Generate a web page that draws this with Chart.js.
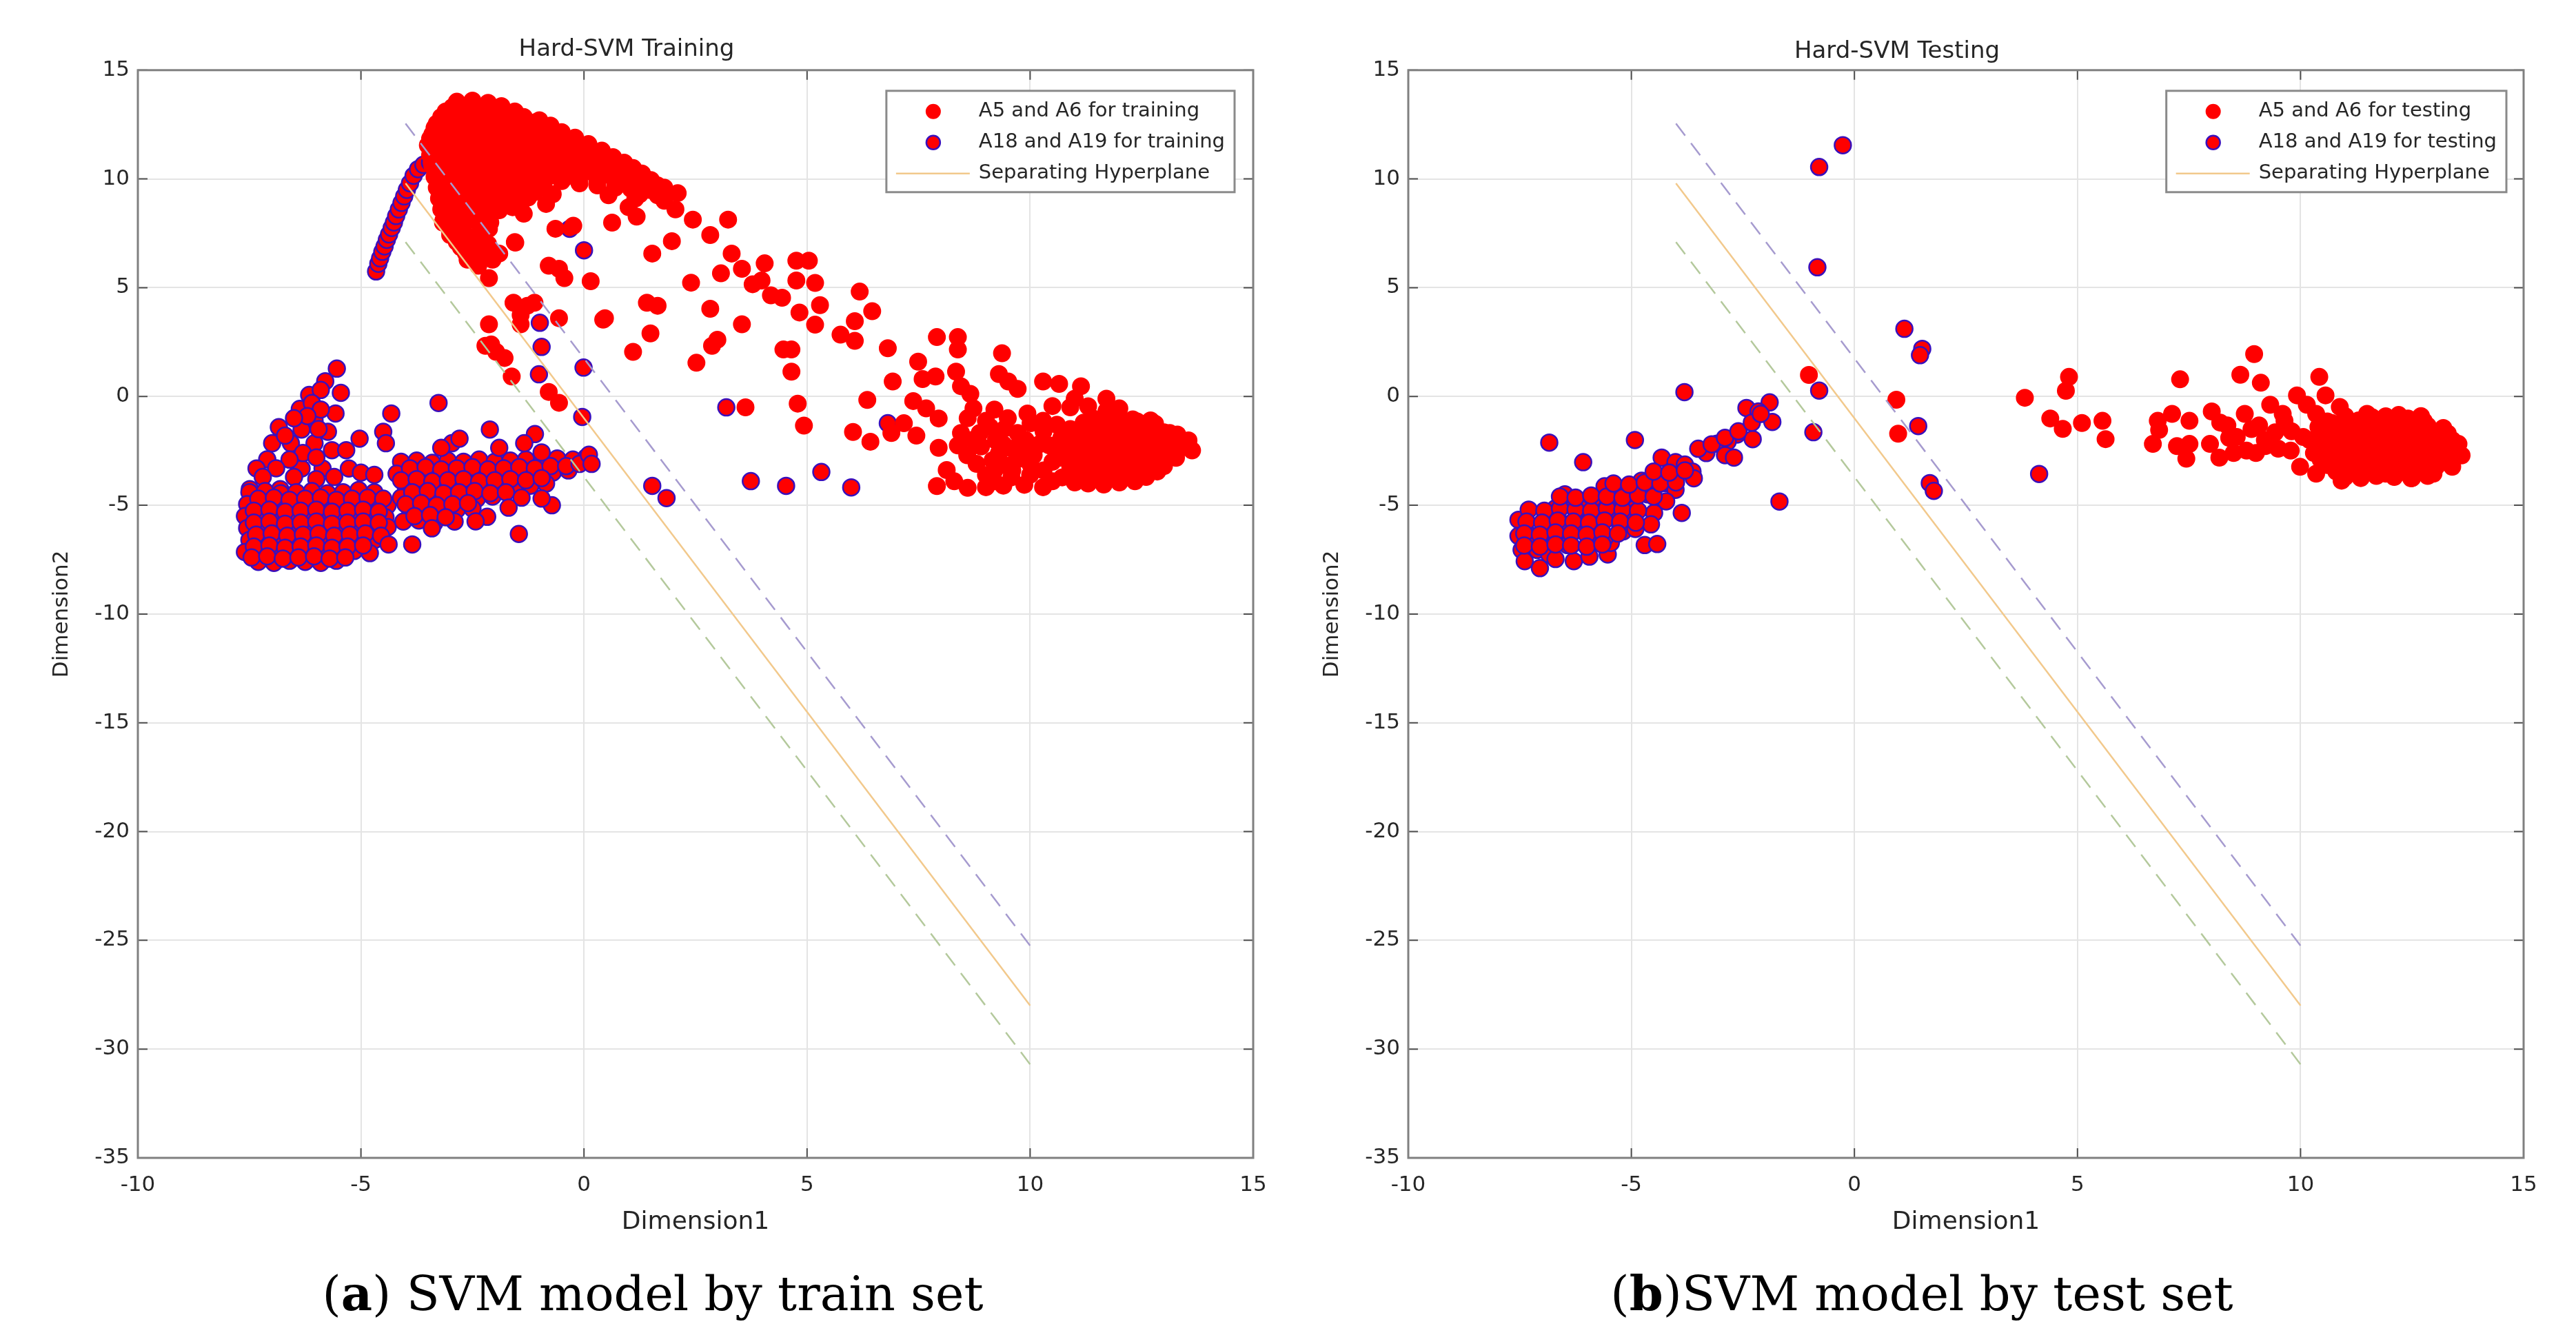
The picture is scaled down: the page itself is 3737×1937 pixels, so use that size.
<!DOCTYPE html>
<html>
<head>
<meta charset="utf-8">
<script src="https://cdn.jsdelivr.net/npm/chart.js@4.4.1/dist/chart.umd.min.js"></script>
<style>
  body { margin: 0; width: 3737px; height: 1937px; background: #fff; position: relative; overflow: hidden; }
  .caja { position: absolute; top: 0; width: 1870px; height: 1800px; }
  .pie { position: absolute; top: 1837px; line-height: 80px; font-family: "DejaVu Serif", serif; font-size: 70px; color: #000; white-space: nowrap; transform: translateX(-50%); }
</style>
</head>
<body>
<div class="caja" style="left:0"><canvas id="svmTrain"></canvas></div>
<div class="caja" style="left:1843px"><canvas id="svmTest"></canvas></div>
<div class="pie" style="left:947px">(<b>a</b>) SVM model by train set</div>
<div class="pie" style="left:2788px">(<b>b</b>)SVM model by test set</div>

<script>
// Datos [Dimension1, Dimension2]
const trenA5A6 = [
  [-2.85,13.55],[-2.5,13.6],[-2.15,13.5],[-1.85,13.35],
  [-3.1,13.1],[-2.75,13.15],[-2.4,13.1],[-2.05,13.05],[-1.7,12.95],[-1.35,12.85],[-1.0,12.7],
  [-3.3,12.55],[-2.95,12.6],[-2.6,12.65],[-2.25,12.6],[-1.9,12.55],[-1.55,12.5],[-1.2,12.4],[-0.85,12.3],[-0.5,12.15],
  [-3.4,12.05],[-3.05,12.1],[-2.7,12.1],[-2.35,12.05],[-2.0,12.1],[-1.65,12.0],[-1.3,12.0],[-0.95,11.9],[-0.6,11.85],[-0.25,11.75],[0.1,11.6],
  [-3.5,11.55],[-3.15,11.6],[-2.8,11.6],[-2.45,11.55],[-2.1,11.6],[-1.75,11.5],[-1.4,11.55],[-1.05,11.45],[-0.7,11.4],[-0.35,11.35],[0.0,11.2],[0.35,11.15],[0.65,11.0],
  [-3.45,11.1],[-3.1,11.05],[-2.75,11.1],[-2.4,11.0],[-2.05,11.1],[-1.7,11.0],[-1.35,11.05],[-1.0,10.95],[-0.65,10.9],[-0.3,10.85],[0.05,10.8],[0.4,10.7],[0.75,10.6],[1.1,10.5],
  [-3.4,10.6],[-3.05,10.55],[-2.7,10.6],[-2.35,10.5],[-2.0,10.6],[-1.65,10.5],[-1.3,10.55],[-0.95,10.4],[-0.6,10.45],[-0.25,10.3],[0.1,10.35],[0.5,10.2],[0.85,10.15],[1.2,10.05],[1.5,9.95],
  [-3.35,10.1],[-3.0,10.05],[-2.65,10.1],[-2.3,10.0],[-1.95,10.05],[-1.6,9.95],[-1.25,10.0],[-0.9,9.85],[-0.5,9.9],[-0.1,9.8],[0.3,9.7],[0.7,9.6],[1.05,9.55],[1.45,9.5],[1.8,9.6],
  [-3.3,9.6],[-2.95,9.55],[-2.6,9.6],[-2.25,9.5],[-1.9,9.55],[-1.5,9.45],[-1.1,9.4],[-0.7,9.3],[0.55,9.25],[1.15,9.1],[1.8,9.0],[2.1,9.35],
  [-3.25,9.1],[-2.9,9.05],[-2.55,9.1],[-2.2,9.0],[-1.8,9.05],[-1.4,8.95],[-0.85,8.85],[1.0,8.7],[2.05,8.6],
  [-3.2,8.6],[-2.85,8.55],[-2.5,8.6],[-2.15,8.5],[-1.35,8.4],
  [-3.15,8.1],[-2.8,8.05],[-2.45,8.1],[-2.1,8.0],
  [-3.0,7.6],[-2.7,7.55],[-2.35,7.5],
  [-2.85,7.1],[-2.5,7.05],[-2.15,7.0],[-1.55,7.1],
  [-2.65,6.6],[-2.3,6.5],[-1.95,6.55],
  [-2.95,13.3],[-2.6,13.35],[-2.25,13.3],[-1.9,13.2],[-1.55,13.1],
  [-3.2,12.85],[-2.85,12.9],[-2.5,12.85],[-2.15,12.85],[-1.8,12.8],[-1.45,12.7],[-1.1,12.6],[-0.75,12.45],
  [-3.35,12.35],[-3.0,12.35],[-2.65,12.4],[-2.3,12.3],[-1.95,12.35],[-1.6,12.25],[-1.25,12.2],[-0.9,12.1],[-0.55,12.0],[-0.2,11.9],
  [-3.45,11.85],[-3.1,11.85],[-2.75,11.8],[-2.4,11.85],[-2.05,11.8],[-1.7,11.75],[-1.35,11.8],[-1.0,11.7],[-0.65,11.6],[-0.3,11.55],[0.05,11.4],[0.4,11.3],
  [-3.3,11.35],[-2.95,11.3],[-2.6,11.35],[-2.25,11.3],[-1.9,11.35],[-1.55,11.25],[-1.2,11.3],[-0.85,11.2],[-0.5,11.1],[-0.15,11.05],[0.2,10.95],[0.55,10.9],[0.9,10.75],
  [-3.25,10.85],[-2.9,10.8],[-2.55,10.85],[-2.2,10.75],[-1.85,10.8],[-1.5,10.75],[-1.15,10.7],[-0.8,10.65],[-0.45,10.6],[-0.1,10.55],[0.25,10.5],[0.6,10.4],[0.95,10.35],[1.3,10.25],
  [-3.2,10.35],[-2.85,10.3],[-2.5,10.35],[-2.15,10.25],[-1.8,10.3],[-1.45,10.2],[-1.1,10.25],[-0.75,10.15],[-0.4,10.1],[0.3,9.95],[0.7,9.85],[1.05,9.8],[1.35,9.75],[1.65,9.7],
  [-3.15,9.85],[-2.8,9.8],[-2.45,9.85],[-2.1,9.75],[-1.75,9.8],[-1.35,9.7],[-0.95,9.6],[1.25,9.3],[1.65,9.25],
  [-3.1,9.35],[-2.75,9.3],[-2.4,9.35],[-2.05,9.25],[-1.65,9.2],[-1.25,9.15],
  [-3.05,8.85],[-2.7,8.8],[-2.35,8.85],[-2.0,8.75],[-1.6,8.7],
  [-3.0,8.35],[-2.65,8.3],[-2.3,8.3],
  [-1.9,8.56],[-1.42,9.12],[-0.64,7.71],[-0.24,7.85],[0.63,7.99],[1.18,8.27],[1.53,6.57],[1.97,7.14],[2.44,8.13],
  [2.4,5.23],[2.83,7.42],[3.07,5.66],[3.23,8.13],[3.31,6.57],[3.54,5.87],[3.78,5.16],
  [3.54,3.32],[2.87,2.33],[2.99,2.61],[2.52,1.55],[3.62,-0.5],[2.83,4.03],[1.1,2.05],[1.41,4.31],[1.65,4.17],[1.49,2.9],
  [0.47,3.6],[-0.56,3.6],[-1.58,4.31],[-1.42,3.75],[-1.27,4.17],[-1.11,4.31],[-1.42,3.32],[-2.13,3.32],[-2.21,2.33],
  [-1.97,2.05],[-1.78,1.77],[-1.62,0.92],[-0.79,0.21],[-0.56,-0.29],[-1.54,7.07],[-0.79,6.01],[-0.56,5.87],[-0.44,5.44],
  [0.15,5.3],[0.43,3.53],[-3.16,7.99],[-3.0,7.42],[-2.76,6.86],[-2.61,6.29],[-2.37,6.01],[-2.13,5.44],[-2.05,6.29],
  [-1.9,6.57],[-2.53,7.14],[-2.13,7.71],[-2.08,2.39],
  [4.05,6.12],[3.98,5.33],[4.19,4.65],[4.44,4.54],[4.76,6.24],[5.04,6.24],[4.76,5.33],[5.18,5.22],[4.83,3.86],
  [5.29,4.2],[5.18,3.3],[6.18,4.82],[6.46,3.92],[6.07,3.46],[5.75,2.84],[6.07,2.56],[4.47,2.16],[4.65,2.16],[4.65,1.14],
  [4.79,-0.33],[4.93,-1.34],[6.81,2.22],[7.91,2.73],[8.38,2.73],[8.38,2.16],[9.37,1.99],[7.49,1.6],[6.92,0.69],[7.59,0.8],
  [7.88,0.92],[8.34,1.14],[8.45,0.47],[8.66,0.12],[6.35,-0.16],[7.38,-0.21],[7.67,-0.55],[7.95,-1.01],[6.03,-1.63],
  [6.42,-2.08],[6.89,-1.68],[7.45,-1.8],[7.17,-1.23],[7.95,-2.36],[8.13,-3.38],[7.91,-4.12],[9.01,-4.17],[9.01,-3.61],
  [9.3,1.03],[9.51,0.69],[9.72,0.35],[10.29,0.69],[10.65,0.58],[11.14,0.47],[11.0,-0.1],[11.71,-0.1],[11.71,-0.67],
  [8.73,-0.55],[9.01,-1.12],[8.87,-1.68],[9.23,-2.02],[9.44,-1.46],[9.72,-1.68],[9.94,-0.78],[10.01,-1.23],[10.29,-1.12],
  [10.5,-0.44],[8.45,-1.68],[8.38,-2.25],[8.59,-2.7],[9.16,-2.93],[9.44,-3.16],[9.58,-3.72],[9.87,-4.06],[10.29,-4.17],
  [10.08,-2.7],[10.43,-2.25],[10.65,-2.82],[10.72,-3.72],[11.0,-3.95],[11.43,-3.04],[11.71,-3.49],[12.06,-3.72],
  [12.42,-3.49],[12.84,-3.16],[13.27,-2.82],[13.63,-2.48],[13.55,-2.02],[13.13,-1.68],[12.77,-1.46],[12.42,-1.34],
  [12.06,-1.23],[11.71,-1.34],[11.35,-1.68],[11.0,-2.02],
  [10.7,-1.9],[11.05,-1.95],[11.4,-1.85],[11.75,-1.9],[12.1,-1.95],[12.45,-1.85],[12.8,-1.9],[13.15,-1.95],[13.45,-2.3],
  [10.85,-2.45],[11.2,-2.5],[11.55,-2.4],[11.9,-2.45],[12.25,-2.5],[12.6,-2.4],[12.95,-2.45],[13.3,-2.5],
  [10.95,-3.0],[11.3,-2.95],[11.65,-3.05],[12.0,-3.0],[12.35,-2.95],[12.7,-3.0],[13.05,-2.9],
  [11.1,-3.5],[11.45,-3.55],[11.8,-3.5],[12.15,-3.45],[12.5,-3.55],[12.85,-3.45],
  [11.3,-4.0],[11.65,-4.05],[12.0,-3.95],[12.35,-3.9],
  [11.4,-1.0],[11.9,-0.95],[12.3,-1.05],[12.7,-1.1],[10.9,-0.5],[11.3,-0.45],[12.0,-0.55],
  [9.6,-2.4],[9.9,-2.0],[10.3,-1.6],[10.6,-1.3],[9.3,-2.6],[10.3,-3.4],[10.0,-3.6],[9.2,-3.9],[8.9,-2.3],[10.9,-1.5],
  [10.9,-1.65],[11.25,-1.7],[11.6,-1.6],[11.95,-1.65],[12.3,-1.7],[12.65,-1.6],[13.0,-1.65],[13.3,-1.75],
  [10.6,-2.2],[10.95,-2.25],[11.3,-2.15],[11.65,-2.2],[12.0,-2.25],[12.35,-2.15],[12.7,-2.2],[13.05,-2.25],[13.4,-2.15],
  [10.75,-2.75],[11.1,-2.7],[11.45,-2.8],[11.8,-2.75],[12.15,-2.7],[12.5,-2.8],[12.85,-2.75],[13.2,-2.7],
  [10.9,-3.25],[11.25,-3.3],[11.6,-3.2],[11.95,-3.25],[12.3,-3.3],[12.65,-3.2],[13.0,-3.2],
  [11.2,-3.75],[11.55,-3.8],[11.9,-3.7],[12.25,-3.75],[12.6,-3.7],
  [11.2,-1.2],[11.6,-1.15],[12.0,-1.25],[12.4,-1.15],[12.8,-1.25],
  [8.6,-1.0],[9.2,-0.6],[9.5,-1.0],[9.1,-1.4],[8.7,-2.0],[9.4,-2.2],[9.7,-2.9],[10.0,-3.1],[9.6,-3.4],[9.2,-3.4],
  [10.5,-3.0],[10.5,-3.9],[9.9,-2.5],[10.2,-2.2],[8.8,-3.1],[8.3,-3.9],[8.6,-4.2],[9.4,-4.1]
];

const trenA18A19 = [
  [-4.66,5.75],[-4.61,6.1],[-4.57,6.35],[-4.52,6.65],[-4.47,6.9],[-4.42,7.2],[-4.37,7.45],[-4.31,7.75],[-4.26,8.0],
  [-4.21,8.3],[-4.15,8.6],[-4.09,8.9],[-4.03,9.2],[-3.97,9.5],[-3.9,9.8],[-3.82,10.15],[-3.72,10.45],[-3.6,10.65],[-3.45,10.75],
  [-5.54,1.28],[-5.8,0.7],[-5.45,0.17],[-6.16,0.07],[-6.37,-0.57],[-5.57,-0.78],[-6.04,-1.1],[-6.33,-1.52],[-5.74,-1.62],
  [-6.57,-2.15],[-6.04,-2.15],[-5.65,-2.47],[-6.84,-1.41],[-6.99,-2.15],[-7.1,-2.89],[-7.34,-3.31],[-7.49,-4.26],
  [-6.81,-4.26],[-6.33,-3.31],[-5.86,-3.31],[-6.22,-4.79],[-5.27,-3.31],[-5.33,-2.47],[-5.03,-1.94],[-4.32,-0.78],
  [-4.5,-1.62],[-4.44,-2.15],[-5.9,0.3],[-6.1,-0.3],[-5.9,-0.6],[-6.2,-0.9],[-5.95,-1.5],[-6.5,-1.0],[-6.7,-1.8],
  [-6.3,-2.6],[-6.0,-2.8],[-6.6,-2.9],[-6.9,-3.3],[-7.2,-3.7],[-6.5,-3.7],[-6.0,-3.8],[-5.6,-3.7],[-5.0,-3.5],[-4.7,-3.6],
  [-7.5,-4.4],[-7.15,-4.35],[-6.8,-4.45],[-6.45,-4.4],[-6.1,-4.35],[-5.75,-4.45],[-5.4,-4.4],[-5.05,-4.3],[-4.7,-4.4],
  [-7.55,-4.95],[-7.2,-5.0],[-6.85,-4.9],[-6.5,-5.0],[-6.15,-4.95],[-5.8,-4.9],[-5.45,-5.0],[-5.1,-4.95],[-4.75,-4.9],[-4.4,-5.0],
  [-7.6,-5.5],[-7.25,-5.45],[-6.9,-5.55],[-6.55,-5.5],[-6.2,-5.45],[-5.85,-5.55],[-5.5,-5.5],[-5.15,-5.45],[-4.8,-5.5],[-4.45,-5.55],
  [-7.55,-6.05],[-7.2,-6.0],[-6.85,-6.1],[-6.5,-6.05],[-6.15,-6.0],[-5.8,-6.1],[-5.45,-6.05],[-5.1,-6.0],[-4.75,-6.1],[-4.4,-6.0],
  [-7.5,-6.6],[-7.15,-6.65],[-6.8,-6.55],[-6.45,-6.6],[-6.1,-6.65],[-5.75,-6.55],[-5.4,-6.6],[-5.05,-6.65],[-4.7,-6.6],
  [-7.6,-7.15],[-7.25,-7.1],[-6.9,-7.2],[-6.55,-7.15],[-6.2,-7.1],[-5.85,-7.2],[-5.5,-7.15],[-5.15,-7.1],[-4.8,-7.2],
  [-7.3,-7.6],[-6.95,-7.65],[-6.6,-7.55],[-6.25,-7.6],[-5.9,-7.65],[-5.55,-7.55],
  [-7.3,-4.7],[-6.95,-4.65],[-6.6,-4.75],[-6.25,-4.7],[-5.9,-4.65],[-5.55,-4.75],[-5.2,-4.7],[-4.85,-4.65],[-4.5,-4.7],
  [-7.4,-5.25],[-7.05,-5.2],[-6.7,-5.3],[-6.35,-5.25],[-6.0,-5.2],[-5.65,-5.3],[-5.3,-5.25],[-4.95,-5.2],[-4.6,-5.3],
  [-7.4,-5.8],[-7.05,-5.75],[-6.7,-5.85],[-6.35,-5.8],[-6.0,-5.75],[-5.65,-5.85],[-5.3,-5.8],[-4.95,-5.75],[-4.6,-5.8],
  [-7.35,-6.35],[-7.0,-6.3],[-6.65,-6.4],[-6.3,-6.35],[-5.95,-6.3],[-5.6,-6.4],[-5.25,-6.35],[-4.9,-6.3],[-4.55,-6.4],
  [-7.4,-6.9],[-7.05,-6.85],[-6.7,-6.95],[-6.35,-6.9],[-6.0,-6.85],[-5.65,-6.95],[-5.3,-6.9],[-4.95,-6.85],
  [-7.45,-7.4],[-7.1,-7.35],[-6.75,-7.45],[-6.4,-7.4],[-6.05,-7.35],[-5.7,-7.45],[-5.35,-7.4],
  [-4.1,-3.0],[-3.75,-2.95],[-3.4,-3.05],[-3.05,-2.95],[-2.7,-3.0],[-2.35,-2.9],[-2.0,-3.0],[-1.65,-2.95],[-1.3,-2.9],
  [-0.95,-3.0],[-0.6,-2.85],[-0.25,-2.9],[0.05,-2.8],
  [-4.2,-3.55],[-3.85,-3.5],[-3.5,-3.6],[-3.15,-3.55],[-2.8,-3.5],[-2.45,-3.6],[-2.1,-3.55],[-1.75,-3.5],[-1.4,-3.55],
  [-1.05,-3.45],[-0.7,-3.5],[-0.35,-3.4],
  [-4.0,-4.1],[-3.65,-4.05],[-3.3,-4.15],[-2.95,-4.1],[-2.6,-4.05],[-2.25,-4.1],[-1.9,-4.15],[-1.55,-4.05],[-1.2,-4.1],[-0.85,-4.0],
  [-4.1,-4.65],[-3.75,-4.6],[-3.4,-4.7],[-3.05,-4.65],[-2.7,-4.6],[-2.4,-4.7],[-2.05,-4.6],[-1.4,-4.65],
  [-3.9,-5.2],[-3.55,-5.15],[-3.2,-5.25],[-2.85,-5.2],[-2.5,-5.15],
  [-4.05,-5.75],[-3.7,-5.7],[-3.35,-5.8],[-2.9,-5.75],
  [-3.9,-3.3],[-3.55,-3.25],[-3.2,-3.35],[-2.85,-3.3],[-2.5,-3.25],[-2.15,-3.35],[-1.8,-3.3],[-1.45,-3.25],[-1.1,-3.3],
  [-0.75,-3.2],[-0.4,-3.2],[-0.1,-3.1],
  [-4.1,-3.85],[-3.75,-3.8],[-3.4,-3.9],[-3.05,-3.85],[-2.7,-3.8],[-2.35,-3.9],[-2.0,-3.85],[-1.65,-3.8],[-1.3,-3.85],[-0.95,-3.75],
  [-3.85,-4.4],[-3.5,-4.35],[-3.15,-4.45],[-2.8,-4.4],[-2.45,-4.35],[-2.1,-4.45],[-1.75,-4.4],
  [-4.0,-4.95],[-3.65,-4.9],[-3.3,-5.0],[-2.95,-4.95],[-2.6,-4.9],
  [-3.8,-5.5],[-3.45,-5.45],[-3.1,-5.55],
  [-3.26,-0.3],[-2.11,-1.52],[-2.96,-2.15],[-2.79,-1.94],[-3.2,-2.36],[-1.1,-1.73],[-0.95,-2.57],[0.11,-2.68],[0.17,-3.1],
  [-0.72,-5.0],[-0.95,-4.69],[-1.69,-5.11],[-1.46,-6.32],[-2.17,-5.53],[-2.43,-5.74],[-1.9,-2.36],[-1.34,-2.15],
  [-3.85,-6.8],[-4.38,-6.8],[-3.41,-6.06],
  [-0.95,2.28],[-1.01,1.02],[-0.01,1.33],[-0.04,-0.94],[0.0,6.72],[-0.32,7.71],[-0.99,3.39],[1.53,-4.11],[1.85,-4.67],
  [3.74,-3.89],[4.53,-4.11],[5.32,-3.47],[5.99,-4.18],[3.19,-0.5],[6.81,-1.23]
];

const pruebaA5A6 = [
  [-1.02,0.99],[0.94,-0.15],[0.98,-1.71],
  [3.82,-0.06],[4.81,0.9],[4.74,0.26],[4.39,-1.01],[4.67,-1.49],[5.1,-1.22],[5.56,-1.12],[5.63,-1.96],
  [7.3,0.79],[6.8,-1.12],[7.12,-0.8],[7.51,-1.12],[6.69,-2.18],[6.83,-1.54],[7.23,-2.28],[7.51,-2.18],[7.44,-2.86],
  [8.01,-0.69],[8.65,1.0],[8.96,1.95],[9.11,0.63],[9.32,-0.38],[8.75,-0.8],[8.36,-1.33],[7.97,-2.18],[8.18,-2.81],
  [8.57,-1.86],[8.79,-2.49],[9.07,-1.33],[9.43,-1.65],[9.64,-1.12],[9.21,-2.28],[9.92,0.05],[10.42,0.9],[10.56,0.05],
  [10.14,-0.38],[10.35,-0.8],[10.88,-0.48],[10.7,-1.22],[10.06,-1.86],[9.78,-2.49],[9.99,-3.23],[10.35,-3.55],
  [10.92,-3.87],[10.42,-2.49],[10.77,-2.28],[11.2,-1.86],[11.49,-0.8],[11.91,-0.91],[12.41,-1.01],[12.76,-1.12],
  [13.19,-1.65],[13.54,-2.18],[13.61,-2.71],[13.4,-3.23],[12.98,-3.55],[12.48,-3.76],[11.91,-3.55],[11.41,-3.34],
  [11.27,-2.49],[11.77,-2.39],[12.19,-2.49],[12.62,-2.49],[13.05,-2.49],[11.63,-1.65],[12.06,-1.65],[12.48,-1.65],
  [12.83,-1.86],[11.63,-2.92],[12.06,-3.13],[12.48,-3.13],[12.9,-3.02],[13.26,-2.71],
  [10.4,-1.4],[10.75,-1.45],[11.1,-1.35],[11.45,-1.4],[11.8,-1.35],[12.15,-1.45],[12.5,-1.4],[12.85,-1.35],[13.2,-1.45],
  [10.2,-2.0],[10.55,-2.05],[10.9,-1.95],[11.25,-2.0],[11.6,-2.05],[11.95,-1.95],[12.3,-2.0],[12.65,-2.05],[13.0,-1.95],[13.4,-2.0],
  [10.3,-2.6],[10.65,-2.65],[11.0,-2.55],[11.35,-2.6],[11.7,-2.65],[12.05,-2.55],[12.4,-2.6],[12.75,-2.65],[13.1,-2.55],[13.45,-2.6],
  [10.6,-3.15],[10.95,-3.2],[11.3,-3.1],[11.65,-3.15],[12.0,-3.2],[12.35,-3.1],[12.7,-3.15],[13.05,-3.2],
  [11.0,-3.7],[11.35,-3.75],[11.7,-3.65],[12.1,-3.7],[12.5,-3.75],[12.85,-3.65],
  [11.0,-0.9],[11.6,-0.95],[12.2,-0.85],[12.7,-0.9],
  [8.4,-1.9],[8.9,-1.5],[9.2,-2.0],[9.5,-2.4],[9.0,-2.6],[8.5,-2.6],[9.8,-1.6],[9.6,-0.8],[8.2,-1.2],
  [10.55,-1.7],[10.9,-1.75],[11.25,-1.65],[11.6,-1.7],[11.95,-1.75],[12.3,-1.65],[12.65,-1.7],[13.0,-1.75],[13.3,-1.7],
  [10.4,-2.3],[10.75,-2.35],[11.1,-2.25],[11.45,-2.3],[11.8,-2.35],[12.15,-2.25],[12.5,-2.3],[12.85,-2.35],[13.2,-2.25],
  [10.45,-2.9],[10.8,-2.95],[11.15,-2.85],[11.5,-2.9],[11.85,-2.95],[12.2,-2.85],[12.55,-2.9],[12.9,-2.95],[13.25,-2.85],
  [10.8,-3.45],[11.15,-3.5],[11.5,-3.4],[11.85,-3.45],[12.2,-3.5],[12.55,-3.4],[12.9,-3.45],
  [10.6,-1.15],[11.3,-1.1],[11.9,-1.2],[12.5,-1.15]
];

const pruebaA18A19 = [
  [-0.26,11.55],[-0.79,10.55],[-0.83,5.94],[1.12,3.11],[1.52,2.19],[1.47,1.9],[-0.79,0.27],[-0.92,-1.64],[1.43,-1.36],
  [1.69,-3.98],[1.78,-4.34],[-1.68,-4.83],[-3.81,0.2],[-4.92,-2.0],[4.14,-3.56],
  [-6.84,-2.12],[-6.08,-3.02],[-5.6,-4.13],[-7.53,-5.67],[-2.42,-0.53],[-1.9,-0.27],[-1.84,-1.17],[-2.15,-0.69],
  [-2.28,-1.96],[-2.63,-1.75],[-2.84,-2.07],[-3.08,-2.17],[-3.32,-2.6],[-2.9,-2.7],[-2.7,-2.81],[-4.32,-2.81],
  [-4.01,-3.02],[-3.8,-3.13],[-3.63,-3.45],[-3.6,-3.76],[-4.49,-3.55],[-4.77,-3.87],[-4.22,-3.98],[-4.01,-4.29],
  [-5.04,-4.5],[-4.63,-4.5],[-4.22,-4.82],[-3.87,-5.35],[-4.49,-5.35],[-4.56,-5.88],[-4.7,-6.83],[-4.42,-6.78],
  [-5.32,-4.93],[-5.6,-4.93],[-5.87,-4.72],[-6.29,-4.72],[-6.49,-4.5],[-6.7,-5.14],[-6.98,-5.78],[-7.25,-6.41],
  [-7.53,-6.41],[-7.46,-7.05],[-7.39,-7.57],[-7.05,-7.89],[-7.11,-7.05],[-6.84,-7.26],[-6.7,-6.62],[-6.43,-6.83],
  [-6.29,-7.57],[-5.94,-7.36],[-5.53,-7.26],[-5.46,-6.73],[-5.87,-6.3],[-6.29,-6.2],[-6.49,-5.88],[-6.01,-5.67],
  [-5.74,-5.78],[-5.32,-5.67],[-5.18,-6.2],[-4.91,-6.09],[-4.91,-5.14],[-5.46,-5.24],[-6.15,-5.14],[-6.84,-5.99],
  [-7.11,-6.62],[-6.7,-7.47],[-5.6,-6.52],[-5.18,-5.46],
  [-7.3,-5.2],[-6.95,-5.25],[-6.6,-5.15],[-6.25,-5.2],[-5.9,-5.25],[-5.55,-5.15],[-5.2,-5.2],[-4.85,-5.25],
  [-7.35,-5.75],[-7.0,-5.8],[-6.65,-5.7],[-6.3,-5.75],[-5.95,-5.8],[-5.6,-5.7],[-5.25,-5.75],[-4.9,-5.8],
  [-7.4,-6.3],[-7.05,-6.35],[-6.7,-6.25],[-6.35,-6.3],[-6.0,-6.35],[-5.65,-6.25],[-5.3,-6.3],
  [-7.4,-6.85],[-7.05,-6.9],[-6.7,-6.8],[-6.35,-6.85],[-6.0,-6.9],[-5.65,-6.8],
  [-6.6,-4.6],[-6.25,-4.65],[-5.9,-4.55],[-5.55,-4.6],[-5.2,-4.65],[-4.85,-4.55],[-4.5,-4.6],
  [-5.4,-4.0],[-5.05,-4.05],[-4.7,-3.95],[-4.35,-4.0],[-4.0,-3.95],
  [-4.5,-3.45],[-4.15,-3.5],[-3.8,-3.4],
  [-3.5,-2.4],[-3.2,-2.2],[-2.9,-1.9],[-2.6,-1.6],[-2.3,-1.2],[-2.1,-0.8]
];

// Hiperplano separador y márgenes (extremos)
const hiperX = [-4, 10];
const hiperY = [9.8, -28.0];
const margenSupY = [12.55, -25.25];
const margenInfY = [7.1, -30.7];

const aPuntos = arr => arr.map(([x, y]) => ({ x, y }));
const aLinea = ys => hiperX.map((x, i) => ({ x, y: ys[i] }));

Chart.defaults.font.family = '"DejaVu Sans", sans-serif';
Chart.defaults.color = '#262626';

// Marco de ejes estilo MATLAB + leyenda dentro del área
const marcoEjes = {
  id: 'marcoEjes',
  afterDatasetsDraw(chart, args, opts) {
    const { ctx, chartArea: a, scales } = chart;
    ctx.save();
    ctx.strokeStyle = '#4d4d4d';
    ctx.lineWidth = 2;
    ctx.beginPath();
    scales.x.ticks.forEach(t => {
      const px = scales.x.getPixelForValue(t.value);
      ctx.moveTo(px, a.bottom); ctx.lineTo(px, a.bottom - 14);
      ctx.moveTo(px, a.top); ctx.lineTo(px, a.top + 14);
    });
    scales.y.ticks.forEach(t => {
      const py = scales.y.getPixelForValue(t.value);
      ctx.moveTo(a.left, py); ctx.lineTo(a.left + 14, py);
      ctx.moveTo(a.right, py); ctx.lineTo(a.right - 14, py);
    });
    ctx.stroke();
    ctx.strokeStyle = '#808080';
    ctx.lineWidth = 3;
    ctx.strokeRect(a.left, a.top, a.right - a.left, a.bottom - a.top);

    // leyenda
    const items = chart.data.datasets.filter(d => d.enLeyenda);
    ctx.font = '29px "DejaVu Sans"';
    const anchoTexto = Math.max(...items.map(d => ctx.measureText(d.label).width));
    const w = 134 + anchoTexto + 14;
    const h = 147;
    const x0 = a.right - opts.derecha - w;
    const y0 = a.top + opts.arriba;
    ctx.fillStyle = '#fff';
    ctx.fillRect(x0, y0, w, h);
    ctx.strokeStyle = '#8a8a8a';
    ctx.lineWidth = 3;
    ctx.strokeRect(x0, y0, w, h);
    items.forEach((d, i) => {
      const cy = y0 + 30 + i * 45;
      if (d.showLine) {
        ctx.strokeStyle = d.borderColor;
        ctx.lineWidth = d.borderWidth;
        ctx.beginPath();
        ctx.moveTo(x0 + 14, cy); ctx.lineTo(x0 + 121, cy);
        ctx.stroke();
      } else {
        ctx.beginPath();
        ctx.arc(x0 + 68, cy, 10, 0, Math.PI * 2);
        ctx.fillStyle = d.backgroundColor;
        ctx.fill();
        ctx.strokeStyle = d.borderColor;
        ctx.lineWidth = d.borderWidth;
        ctx.stroke();
      }
      ctx.fillStyle = '#262626';
      ctx.textBaseline = 'middle';
      ctx.textAlign = 'left';
      ctx.fillText(d.label, x0 + 134, cy);
    });
    ctx.restore();
  }
};

function crearGrafico(id, titulo, rojos, azules, etiquetaRojos, etiquetaAzules, tituloArriba, derechaLeyenda) {
  const ctx = document.getElementById(id).getContext('2d');
  return new Chart(ctx, {
    type: 'scatter',
    data: {
      datasets: [
        {
          label: etiquetaRojos,
          data: aPuntos(rojos),
          backgroundColor: '#ff0000',
          borderColor: '#ff0000',
          pointRadius: 12,
          borderWidth: 2,
          order: 1,
          enLeyenda: true
        },
        {
          label: etiquetaAzules,
          data: aPuntos(azules),
          backgroundColor: '#ff0000',
          borderColor: '#3a10bc',
          pointRadius: 12,
          borderWidth: 2.5,
          order: 2,
          enLeyenda: true
        },
        {
          label: 'Separating Hyperplane',
          data: aLinea(hiperY),
          showLine: true,
          borderColor: '#f2c98c',
          borderWidth: 2.5,
          pointRadius: 0,
          order: 0,
          enLeyenda: true
        },
        {
          label: 'margen superior',
          data: aLinea(margenSupY),
          showLine: true,
          borderColor: '#a69bcf',
          borderDash: [22, 14],
          borderWidth: 2.5,
          pointRadius: 0,
          order: 0
        },
        {
          label: 'margen inferior',
          data: aLinea(margenInfY),
          showLine: true,
          borderColor: '#b4c99c',
          borderDash: [22, 14],
          borderWidth: 2.5,
          pointRadius: 0,
          order: 0
        }
      ]
    },
    options: {
      animation: false,
      responsive: true,
      maintainAspectRatio: false,
      layout: { padding: { left: 0, right: 52, top: 0, bottom: 0 } },
      plugins: {
        legend: { display: false },
        tooltip: { enabled: false },
        title: {
          display: true,
          text: titulo,
          color: '#262626',
          font: { size: 34, weight: 'normal' },
          padding: { top: tituloArriba, bottom: 61 - tituloArriba }
        },
        marcoEjes: { derecha: derechaLeyenda, arriba: 30 }
      },
      scales: {
        x: {
          type: 'linear',
          min: -10,
          max: 15,
          ticks: { stepSize: 5, padding: 21, font: { size: 31 } },
          grid: { color: '#e4e4e4', lineWidth: 2, drawTicks: false },
          border: { display: false },
          title: { display: true, text: 'Dimension1', font: { size: 36 }, padding: { top: 0, bottom: 5 } },
          afterFit(s) { s.height = 120; }
        },
        y: {
          type: 'linear',
          min: -35,
          max: 15,
          ticks: { stepSize: 5, padding: 12, font: { size: 31 } },
          grid: { color: '#e4e4e4', lineWidth: 2, drawTicks: false },
          border: { display: false },
          title: { display: true, text: 'Dimension2', font: { size: 31 }, padding: { top: 71, bottom: 0 } },
          afterFit(s) { s.width = 200; }
        }
      }
    },
    plugins: [marcoEjes]
  });
}

crearGrafico('svmTrain', 'Hard-SVM Training', trenA5A6, trenA18A19,
  'A5 and A6 for training', 'A18 and A19 for training', 52, 27);
crearGrafico('svmTest', 'Hard-SVM Testing', pruebaA5A6, pruebaA18A19,
  'A5 and A6 for testing', 'A18 and A19 for testing', 55, 25);
</script>
</body>
</html>
